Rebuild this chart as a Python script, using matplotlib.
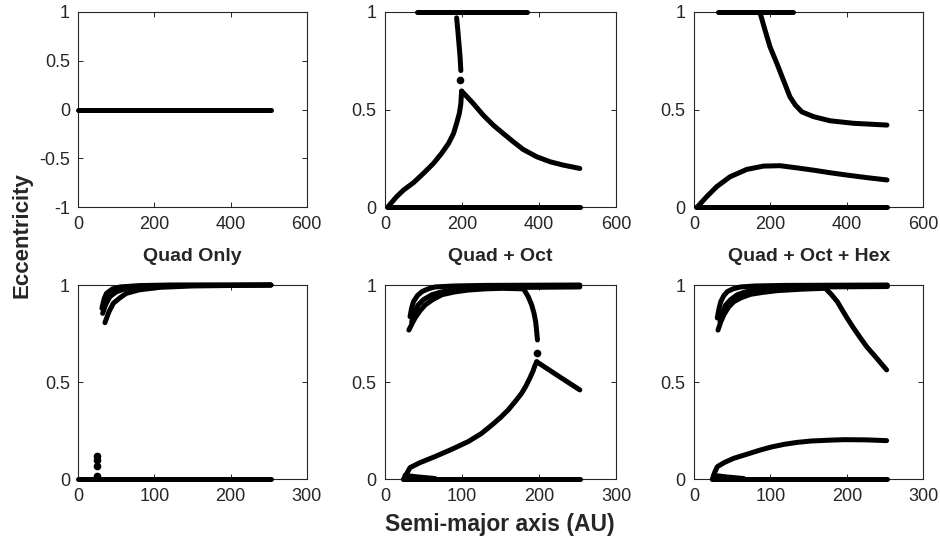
import matplotlib
matplotlib.use("Agg")
import matplotlib.pyplot as plt

plt.rcParams['font.family'] = ['Liberation Sans', 'DejaVu Sans']

# ---------------- data ----------------
# Panel 1: Quad Only, 500 AU
q1_zero_x = [0, 100, 200, 300, 400, 505]
q1_zero_e = [0, 0, 0, 0, 0, 0]

# Panel 2: Quad + Oct, 500 AU
p2_top_x = [82, 368]
p2_top_e = [1.0, 1.0]
p2_fall_x = [186, 189, 192, 195, 197]
p2_fall_e = [0.97, 0.91, 0.84, 0.77, 0.70]
p2_dot_x = [196]
p2_dot_e = [0.65]
p2_rise_x = [8.7, 30, 48, 74, 100, 126, 147, 165, 178, 186, 193, 197, 199]
p2_rise_e = [0.005, 0.054, 0.088, 0.126, 0.174, 0.225, 0.276, 0.327, 0.378, 0.43, 0.48, 0.53, 0.595]
p2_decay_x = [199, 204, 229, 255, 281, 307, 333, 359, 394, 429, 463, 506]
p2_decay_e = [0.595, 0.585, 0.532, 0.472, 0.421, 0.378, 0.336, 0.296, 0.259, 0.233, 0.216, 0.199]
p2_zero_x = [5, 506]
p2_zero_e = [0.0, 0.0]

# Panel 3: Quad + Oct + Hex, 500 AU
p3_top_x = [64, 260]
p3_top_e = [1.0, 1.0]
p3_fall_x = [173, 186, 199, 217, 234, 251, 265, 282, 313, 356, 418, 505]
p3_fall_e = [0.995, 0.906, 0.821, 0.736, 0.651, 0.566, 0.524, 0.489, 0.464, 0.443, 0.43, 0.421]
p3_hump_x = [8, 33, 59, 94, 138, 182, 225, 269, 313, 356, 400, 452, 505]
p3_hump_e = [0.0, 0.054, 0.105, 0.156, 0.194, 0.211, 0.213, 0.202, 0.19, 0.177, 0.165, 0.152, 0.14]
p3_zero_x = [5, 505]
p3_zero_e = [0.0, 0.0]

# Panel 4: Quad Only, 250 AU
p4_a_x = [35, 40, 46, 55, 63, 80, 107, 150, 253]
p4_a_e = [0.806, 0.86, 0.906, 0.935, 0.957, 0.975, 0.988, 0.995, 1.0]
p4_b_x = [32, 36, 41.5, 50, 63, 90, 130, 253]
p4_b_e = [0.854, 0.90, 0.94, 0.965, 0.983, 0.993, 0.998, 1.0]
p4_c_x = [31, 34, 37, 45, 55, 80, 120, 253]
p4_c_e = [0.88, 0.93, 0.957, 0.98, 0.99, 0.997, 1.0, 1.0]
p4_dots_x = [25, 25, 25, 25]
p4_dots_e = [0.12, 0.10, 0.07, 0.015]
p4_zero_x = [0, 253]
p4_zero_e = [0.0, 0.0]

# Panel 5: Quad + Oct, 250 AU
p5_a_x = [31, 35, 39, 45, 52, 62, 74, 90, 108, 130, 152, 180]
p5_a_e = [0.768, 0.80, 0.83, 0.865, 0.897, 0.925, 0.95, 0.964, 0.974, 0.98, 0.983, 0.98]
p5_b_x = [34.6, 38, 43, 50, 61, 72, 87, 105, 130, 253]
p5_b_e = [0.81, 0.855, 0.897, 0.925, 0.95, 0.963, 0.974, 0.98, 0.986, 0.99]
p5_c_x = [32.5, 34.5, 37, 42, 48, 56, 65, 90, 130, 253]
p5_c_e = [0.837, 0.88, 0.914, 0.945, 0.966, 0.98, 0.99, 0.995, 0.998, 1.0]
p5_fall_x = [180, 186, 190.5, 193.5, 195.7, 197, 198]
p5_fall_e = [0.98, 0.94, 0.897, 0.855, 0.81, 0.76, 0.717]
p5_dot_x = [198]
p5_dot_e = [0.648]
p5_rise_x = [24, 26, 32.5, 45, 65, 87, 108, 125, 139, 150, 160, 169, 177.5, 183, 188, 192, 195, 197]
p5_rise_e = [0.0, 0.014, 0.06, 0.085, 0.117, 0.155, 0.194, 0.235, 0.28, 0.318, 0.357, 0.40, 0.443, 0.48, 0.52, 0.555, 0.588, 0.605]
p5_decay_x = [197, 225, 253]
p5_decay_e = [0.605, 0.532, 0.46]
p5_down_x = [26, 43, 65]
p5_down_e = [0.02, 0.012, 0.004]
p5_zero_x = [23, 253]
p5_zero_e = [0.0, 0.0]

# Panel 6: Quad + Oct + Hex, 250 AU
p6_a_x = [31.4, 35, 39, 45, 52, 62, 74, 90, 109, 126, 144, 172]
p6_a_e = [0.768, 0.81, 0.846, 0.885, 0.914, 0.935, 0.952, 0.962, 0.971, 0.975, 0.979, 0.983]
p6_b_x = [34, 37, 41.4, 48, 56.7, 66, 78.5, 95, 113, 160, 253]
p6_b_e = [0.81, 0.855, 0.897, 0.925, 0.95, 0.963, 0.974, 0.98, 0.986, 0.99, 0.992]
p6_c_x = [30.5, 32.5, 35, 39, 43.6, 51, 61, 80, 120, 253]
p6_c_e = [0.83, 0.875, 0.914, 0.945, 0.966, 0.98, 0.99, 0.995, 0.998, 1.0]
p6_fall_x = [172, 180, 187.5, 194, 200.6, 209, 218, 226, 235.4, 244, 252]
p6_fall_e = [0.983, 0.95, 0.914, 0.871, 0.828, 0.777, 0.726, 0.682, 0.64, 0.60, 0.563]
p6_hump_x = [24, 27, 30.5, 40, 52, 70, 87, 102, 118, 135, 153, 175, 196, 225, 252]
p6_hump_e = [0.0, 0.035, 0.065, 0.087, 0.108, 0.13, 0.151, 0.167, 0.18, 0.19, 0.197, 0.201, 0.204, 0.203, 0.199]
p6_down_x = [26, 43, 65]
p6_down_e = [0.02, 0.012, 0.004]
p6_zero_x = [23, 253]
p6_zero_e = [0.0, 0.0]

titles = ["Quad Only", "Quad + Oct", "Quad + Oct + Hex"]
top_xticks = [0, 200, 400, 600]
bot_xticks = [0, 100, 200, 300]
y_ticks_full = [-1, -0.5, 0, 0.5, 1]
y_labels_full = ["-1", "-0.5", "0", "0.5", "1"]
y_ticks = [0, 0.5, 1]
y_labels = ["0", "0.5", "1"]

# ---------------- figure ----------------
fig = plt.figure(figsize=(9.4, 5.45), dpi=100)
W, H = 940.0, 545.0
cols = [(78.3, 306.7), (385.0, 616.0), (694.0, 923.3)]
rows = [(12.0, 207.3), (285.0, 479.3)]

LW = 3.6
TXT = '#262626'


def make_ax(col, row):
    x0, x1 = cols[col]
    y0, y1 = rows[row]
    ax = fig.add_axes([x0 / W, (H - y1) / H, (x1 - x0) / W, (y1 - y0) / H])
    ax.tick_params(direction='in', top=True, right=True, length=3.5,
                   width=0.7, colors=TXT, labelsize=13, pad=6)
    for s in ax.spines.values():
        s.set_color(TXT)
        s.set_linewidth(0.8)
    return ax


def line(ax, x, e):
    ax.plot(x, e, color='black', lw=LW, solid_capstyle='round',
            solid_joinstyle='round', clip_on=False, zorder=3)


def dots(ax, x, e):
    ax.plot(x, e, 'o', color='black', ms=4.5, mec='black', clip_on=False, zorder=3)


axes = {}
for r in range(2):
    for c in range(3):
        axes[(r, c)] = make_ax(c, r)

# Panel 1
ax = axes[(0, 0)]
line(ax, q1_zero_x, q1_zero_e)
ax.set_ylim(-1, 1)
ax.set_yticks(y_ticks_full)
ax.set_yticklabels(y_labels_full)

# Panel 2
ax = axes[(0, 1)]
line(ax, p2_top_x, p2_top_e)
line(ax, p2_fall_x, p2_fall_e)
dots(ax, p2_dot_x, p2_dot_e)
line(ax, p2_rise_x, p2_rise_e)
line(ax, p2_decay_x, p2_decay_e)
line(ax, p2_zero_x, p2_zero_e)

# Panel 3
ax = axes[(0, 2)]
line(ax, p3_top_x, p3_top_e)
line(ax, p3_fall_x, p3_fall_e)
line(ax, p3_hump_x, p3_hump_e)
line(ax, p3_zero_x, p3_zero_e)

for c in range(3):
    ax = axes[(0, c)]
    ax.set_xlim(0, 600)
    ax.set_xticks(top_xticks)
    if c > 0:
        ax.set_ylim(0, 1)
        ax.set_yticks(y_ticks)
        ax.set_yticklabels(y_labels)

# Panel 4
ax = axes[(1, 0)]
line(ax, p4_a_x, p4_a_e)
line(ax, p4_b_x, p4_b_e)
line(ax, p4_c_x, p4_c_e)
dots(ax, p4_dots_x, p4_dots_e)
line(ax, p4_zero_x, p4_zero_e)

# Panel 5
ax = axes[(1, 1)]
line(ax, p5_a_x, p5_a_e)
line(ax, p5_b_x, p5_b_e)
line(ax, p5_c_x, p5_c_e)
line(ax, p5_fall_x, p5_fall_e)
dots(ax, p5_dot_x, p5_dot_e)
line(ax, p5_rise_x, p5_rise_e)
line(ax, p5_decay_x, p5_decay_e)
line(ax, p5_down_x, p5_down_e)
line(ax, p5_zero_x, p5_zero_e)

# Panel 6
ax = axes[(1, 2)]
line(ax, p6_a_x, p6_a_e)
line(ax, p6_b_x, p6_b_e)
line(ax, p6_c_x, p6_c_e)
line(ax, p6_fall_x, p6_fall_e)
line(ax, p6_hump_x, p6_hump_e)
line(ax, p6_down_x, p6_down_e)
line(ax, p6_zero_x, p6_zero_e)

for c in range(3):
    ax = axes[(1, c)]
    ax.set_xlim(0, 300)
    ax.set_xticks(bot_xticks)
    ax.set_ylim(0, 1)
    ax.set_yticks(y_ticks)
    ax.set_yticklabels(y_labels)
    ax.set_title(titles[c], fontsize=14, fontweight='bold', color=TXT, pad=17)

fig.text(21.5 / W, 1 - 235 / H, "Eccentricity", rotation=90, fontsize=16,
         fontweight='bold', color=TXT, ha='center', va='center')
fig.text(500 / W, 1 - 525 / H, "Semi-major axis (AU)", fontsize=16.5,
         fontweight='bold', color=TXT, ha='center', va='center')

fig.savefig("out.png", dpi=100)
